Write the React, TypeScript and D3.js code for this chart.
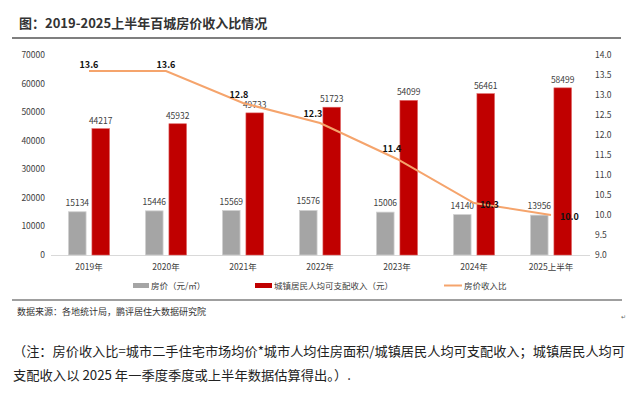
import React from "react";
import * as d3 from "d3";

const years = ["2019年", "2020年", "2021年", "2022年", "2023年", "2024年", "2025上半年"];
const housePrice = [15134, 15446, 15569, 15576, 15006, 14140, 13956];
const income = [44217, 45932, 49733, 51723, 54099, 56461, 58499];
const ratio = [13.6, 13.6, 12.8, 12.3, 11.4, 10.3, 10.0];
const leftTicks = [0, 10000, 20000, 30000, 40000, 50000, 60000, 70000];
const rightTicks = [9.0, 9.5, 10.0, 10.5, 11.0, 11.5, 12.0, 12.5, 13.0, 13.5, 14.0];
const seriesNames = ["房价（元/㎡）", "城镇居民人均可支配收入（元）", "房价收入比"];

// where each ratio label sits relative to its point
const ratioLabelOffset = [
  { dx: 0, dy: -3, anchor: "middle" },
  { dx: 0, dy: -3, anchor: "middle" },
  { dx: -4, dy: -5, anchor: "middle" },
  { dx: -7, dy: -6, anchor: "middle" },
  { dx: -5, dy: -7, anchor: "middle" },
  { dx: 6, dy: 5, anchor: "start" },
  { dx: 9, dy: 5, anchor: "start" },
];

const W = 640;
const H = 398;
const cjk = "'Noto Sans CJK SC', 'Noto Sans', sans-serif";
const GRAY = "#a5a5a5";
const RED = "#c00000";
const ORANGE = "#f5a46c";

export default function App() {
  const x = d3.scaleBand().domain(years).range([50.5, 589.5]);
  const sub = d3.scaleBand().domain(["price", "income"]).range([-20.5, 20.5]).paddingInner(0.25);
  const yL = d3.scaleLinear().domain([0, 70000]).range([255, 55]);
  const yR = d3.scaleLinear().domain([9, 14]).range([255, 55]);
  const cx = (d: string) => (x(d) as number) + x.bandwidth() / 2;

  const line = d3
    .line<number>()
    .x((_, i) => cx(years[i]))
    .y((d) => yR(d));

  return (
    <svg width={W} height={H} style={{ position: "absolute", left: 0, top: 0, background: "#fff" }}>
      {/* title */}
      <text x={19} y={28} fontFamily={cjk} fontSize={13} fontWeight={600} fill="#333">
        图：2019-2025上半年百城房价收入比情况
      </text>
      <line x1={12} x2={621} y1={38} y2={38} stroke="#7f7f7f" strokeWidth={2} />

      {/* left axis */}
      {leftTicks.map((t) => (
        <text key={t} x={45} y={yL(t) + 3} textAnchor="end" fontFamily={cjk} fontSize={8.5} fill="#404040">
          {t}
        </text>
      ))}
      {/* right axis */}
      {rightTicks.map((t) => (
        <text key={t} x={595} y={yR(t) + 3} textAnchor="start" fontFamily={cjk} fontSize={8.5} fill="#404040">
          {t.toFixed(1)}
        </text>
      ))}
      <line x1={51} x2={590} y1={255.5} y2={255.5} stroke="#d9d9d9" strokeWidth={1} />

      {/* bars */}
      {years.map((yr, i) => {
        const c = cx(yr);
        const gx = c + (sub("price") as number);
        const rx = c + (sub("income") as number);
        return (
          <g key={yr}>
            <rect x={gx} y={yL(housePrice[i])} width={sub.bandwidth()} height={255 - yL(housePrice[i])}
              fill={GRAY} stroke="#d0d0d0" strokeWidth={0.8} />
            <rect x={rx} y={yL(income[i])} width={sub.bandwidth()} height={255 - yL(income[i])}
              fill={RED} stroke="#e06060" strokeWidth={0.6} />
            <text x={gx + sub.bandwidth() / 2} y={yL(housePrice[i]) - 6} textAnchor="middle"
              fontFamily={cjk} fontSize={8.5} fill="#404040">{housePrice[i]}</text>
            <text x={rx + sub.bandwidth() / 2} y={yL(income[i]) - 5} textAnchor="middle"
              fontFamily={cjk} fontSize={8.5} fill="#404040">{income[i]}</text>
            <text x={c} y={270} textAnchor="middle" fontFamily={cjk} fontSize={8.5} fill="#404040">{yr}</text>
          </g>
        );
      })}

      {/* ratio line */}
      <path d={line(ratio) || ""} fill="none" stroke={ORANGE} strokeWidth={2} />
      {ratio.map((v, i) => {
        const o = ratioLabelOffset[i];
        return (
          <text key={i} x={cx(years[i]) + o.dx} y={yR(v) + o.dy} textAnchor={o.anchor}
            fontFamily={cjk} fontSize={9} fontWeight={700} fill="#111">
            {v.toFixed(1)}
          </text>
        );
      })}

      {/* legend */}
      <rect x={133} y={283} width={16} height={5} fill={GRAY} />
      <text x={151} y={288.5} fontFamily={cjk} fontSize={8.5} fill="#404040">{seriesNames[0]}</text>
      <rect x={255} y={283} width={17} height={5} fill={RED} />
      <text x={274} y={288.5} fontFamily={cjk} fontSize={8.5} fill="#404040">{seriesNames[1]}</text>
      <line x1={444} x2={462} y1={285.5} y2={285.5} stroke={ORANGE} strokeWidth={2} />
      <text x={464} y={288.5} fontFamily={cjk} fontSize={8.5} fill="#404040">{seriesNames[2]}</text>

      {/* source */}
      <line x1={12} x2={622} y1={300} y2={300} stroke="#7f7f7f" strokeWidth={1.5} />
      <text x={17} y={315} fontFamily={cjk} fontSize={9} fill="#333">数据来源：各地统计局，鹏评居住大数据研究院</text>
      <text x={621} y={319} fontFamily={cjk} fontSize={6} fill="#666">↵</text>

      {/* note */}
      <text x={13} y={356} fontFamily={cjk} fontSize={13} fill="#222" textLength={612} lengthAdjust="spacingAndGlyphs">
        （注：房价收入比=城市二手住宅市场均价*城市人均住房面积/城镇居民人均可支配收入；城镇居民人均可
      </text>
      <text x={13} y={380} fontFamily={cjk} fontSize={13} fill="#222" textLength={338} lengthAdjust="spacingAndGlyphs">
        支配收入以 2025 年一季度季度或上半年数据估算得出。）.
      </text>
    </svg>
  );
}
